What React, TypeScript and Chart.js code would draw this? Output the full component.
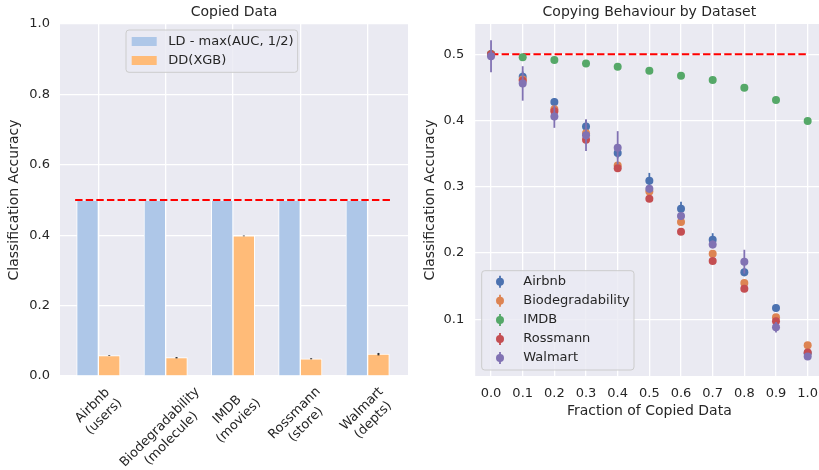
import React, { useEffect, useRef } from "react";
import { Chart, registerables } from "chart.js";

Chart.register(...registerables);

const TEXT = "#262626";
const FONT = '"DejaVu Sans", sans-serif';
const PANEL_BG = "#EAEAF2";
const GRID = "#FFFFFF";

// ---------- Left panel: Copied Data ----------
const CAT_NAMES = ["Airbnb", "Biodegradability", "IMDB", "Rossmann", "Walmart"];
const CAT_UNITS = ["(users)", "(molecule)", "(movies)", "(store)", "(depts)"];
const CAT_POS = [0, 1, 2, 3, 4];
const LD_LABEL = "LD - max(AUC, 1/2)";
const DD_LABEL = "DD(XGB)";
const LD_VALUES = [0.5, 0.5, 0.5, 0.5, 0.5];
const DD_VALUES = [0.058, 0.052, 0.398, 0.049, 0.062];
const DD_ERRORS = [0.001, 0.002, 0.001, 0.0015, 0.0035];
const LEFT_Y_TICKS = [0.0, 0.2, 0.4, 0.6, 0.8, 1.0];
const CHANCE_LEVEL = 0.5;
const LEFT_CHANCE_X = [-0.345, 4.34];

// ---------- Right panel: Copying Behaviour by Dataset ----------
const FRACTIONS = [0.0, 0.1, 0.2, 0.3, 0.4, 0.5, 0.6, 0.7, 0.8, 0.9, 1.0];
const SERIES_NAMES = ["Airbnb", "Biodegradability", "IMDB", "Rossmann", "Walmart"];
const SERIES_COLORS = ["#4C72B0", "#DD8452", "#55A868", "#C44E52", "#8172B3"];
const AIRBNB = [0.5, 0.466, 0.428, 0.391, 0.351, 0.309, 0.267, 0.22, 0.171, 0.117, 0.049];
const AIRBNB_ERR = [0.002, 0.008, 0.006, 0.01, 0.008, 0.012, 0.0105, 0.01, 0.006, 0.004, 0.003];
const BIODEG = [0.5, 0.462, 0.417, 0.381, 0.332, 0.293, 0.247, 0.199, 0.155, 0.103, 0.061];
const BIODEG_ERR = [0.001, 0.004, 0.004, 0.004, 0.004, 0.004, 0.004, 0.004, 0.004, 0.003, 0.003];
const IMDB = [0.5, 0.4955, 0.4914, 0.486, 0.481, 0.4753, 0.4677, 0.4612, 0.4496, 0.431, 0.3994];
const IMDB_ERR = [0.0005, 0.001, 0.001, 0.001, 0.001, 0.001, 0.001, 0.001, 0.001, 0.001, 0.001];
const ROSSMANN = [0.5, 0.46, 0.414, 0.371, 0.328, 0.282, 0.232, 0.188, 0.146, 0.097, 0.05];
const ROSSMANN_ERR = [0.001, 0.004, 0.004, 0.005, 0.004, 0.004, 0.004, 0.004, 0.004, 0.003, 0.003];
const WALMART = [0.497, 0.456, 0.406, 0.378, 0.359, 0.297, 0.256, 0.213, 0.187, 0.088, 0.044];
const WALMART_ERR = [0.024, 0.026, 0.017, 0.024, 0.025, 0.006, 0.006, 0.006, 0.018, 0.008, 0.004];
const RIGHT_X_TICKS = [0.0, 0.1, 0.2, 0.3, 0.4, 0.5, 0.6, 0.7, 0.8, 0.9, 1.0];
const RIGHT_Y_TICKS = [0.1, 0.2, 0.3, 0.4, 0.5];
const RIGHT_CHANCE_X = [0.0, 1.0];

const SERIES_VALUES = [AIRBNB, BIODEG, IMDB, ROSSMANN, WALMART];
const SERIES_ERRORS = [AIRBNB_ERR, BIODEG_ERR, IMDB_ERR, ROSSMANN_ERR, WALMART_ERR];

Chart.defaults.font.family = FONT;
Chart.defaults.color = TEXT;

const fmt1 = (v: any) => Number(v).toFixed(1);
const setTicks = (vals: number[]) => (s: any) => {
  s.ticks = vals.map((value) => ({ value }));
};
const gridOpts = { color: GRID, lineWidth: 1.3, drawTicks: false, offset: false };

const bgPlugin = {
  id: "panelBg",
  beforeDraw(chart: any) {
    const { ctx, chartArea: a } = chart;
    ctx.save();
    ctx.fillStyle = PANEL_BG;
    ctx.fillRect(a.left, a.top, a.right - a.left, a.bottom - a.top);
    ctx.restore();
  },
};

function drawErr(chart: any, index: number) {
  const ds = chart.data.datasets[index];
  if (!ds.errors) return;
  const { ctx } = chart;
  const meta = chart.getDatasetMeta(index);
  const ys = chart.scales.y;
  ctx.save();
  ctx.strokeStyle = ds.errorColor;
  ctx.lineWidth = ds.errorWidth;
  ds.data.forEach((p: any, i: number) => {
    const el = meta.data[i];
    if (!el) return;
    const e = ds.errors[i];
    ctx.beginPath();
    ctx.moveTo(el.x, ys.getPixelForValue(p.y - e));
    ctx.lineTo(el.x, ys.getPixelForValue(p.y + e));
    ctx.stroke();
  });
  ctx.restore();
}

const errPlugin = {
  id: "errBars",
  beforeDatasetDraw(chart: any, args: any) {
    const ds = chart.data.datasets[args.index];
    if (ds.errors && !ds.errorOnTop) drawErr(chart, args.index);
  },
  afterDatasetDraw(chart: any, args: any) {
    const ds = chart.data.datasets[args.index];
    if (ds.errors && ds.errorOnTop) drawErr(chart, args.index);
  },
};

function roundBox(ctx: any, x: number, y: number, w: number, h: number, r: number) {
  ctx.beginPath();
  ctx.moveTo(x + r, y);
  ctx.lineTo(x + w - r, y);
  ctx.arcTo(x + w, y, x + w, y + r, r);
  ctx.lineTo(x + w, y + h - r);
  ctx.arcTo(x + w, y + h, x + w - r, y + h, r);
  ctx.lineTo(x + r, y + h);
  ctx.arcTo(x, y + h, x, y + h - r, r);
  ctx.lineTo(x, y + r);
  ctx.arcTo(x, y, x + r, y, r);
  ctx.closePath();
}

const rotatedTicksPlugin = {
  id: "rotTicks",
  afterDraw(chart: any) {
    const { ctx, chartArea } = chart;
    const xs = chart.scales.x;
    const lh = 16;
    ctx.save();
    ctx.font = `13px ${FONT}`;
    ctx.fillStyle = TEXT;
    ctx.textAlign = "center";
    ctx.textBaseline = "middle";
    CAT_POS.forEach((v, i) => {
      const lines = [CAT_NAMES[i], CAT_UNITS[i]];
      const W = Math.max(...lines.map((l) => ctx.measureText(l).width));
      const H = lines.length * lh;
      const half = ((W + H) * Math.SQRT1_2) / 2;
      const cx = xs.getPixelForValue(v);
      const cy = chartArea.bottom + 8 + half;
      ctx.save();
      ctx.translate(cx, cy);
      ctx.rotate(-Math.PI / 4);
      lines.forEach((l, j) => ctx.fillText(l, 0, (j - (lines.length - 1) / 2) * lh));
      ctx.restore();
    });
    ctx.restore();
  },
};

const leftLegendPlugin = {
  id: "leftLegend",
  afterDraw(chart: any) {
    const { ctx, chartArea: a } = chart;
    const items = chart.data.datasets.filter((d: any) => d.type !== "line");
    ctx.save();
    ctx.font = `13px ${FONT}`;
    const textW = Math.max(...items.map((d: any) => ctx.measureText(d.label).width));
    const x0 = a.left + 66;
    const y0 = a.top + 6;
    const pad = 5.7;
    const handle = 25;
    const gap = 11.6;
    const rowH = 19;
    const w = pad + handle + gap + textW + 4;
    const h = 42.3;
    roundBox(ctx, x0, y0, w, h, 3);
    ctx.fillStyle = "rgba(234,234,242,0.8)";
    ctx.fill();
    ctx.strokeStyle = "#CCCCCC";
    ctx.lineWidth = 1;
    ctx.stroke();
    items.forEach((d: any, i: number) => {
      const cy = y0 + 11.5 + i * rowH;
      ctx.fillStyle = d.backgroundColor;
      ctx.fillRect(x0 + pad, cy - 4.5, handle, 9);
      ctx.fillStyle = TEXT;
      ctx.textAlign = "left";
      ctx.textBaseline = "middle";
      ctx.fillText(d.label, x0 + pad + handle + gap, cy);
    });
    ctx.restore();
  },
};

const rightLegendPlugin = {
  id: "rightLegend",
  afterDraw(chart: any) {
    const { ctx, chartArea: a } = chart;
    const items = chart.data.datasets.filter((d: any) => d.type !== "line");
    ctx.save();
    ctx.font = `13px ${FONT}`;
    const textW = Math.max(...items.map((d: any) => ctx.measureText(d.label).width));
    const rowH = 19.1;
    const h = 99.3;
    const x0 = a.left + 6.5;
    const y0 = a.bottom - 6 - h;
    const w = 41.6 + textW + 4.3;
    roundBox(ctx, x0, y0, w, h, 3);
    ctx.fillStyle = "rgba(234,234,242,0.8)";
    ctx.fill();
    ctx.strokeStyle = "#CCCCCC";
    ctx.lineWidth = 1;
    ctx.stroke();
    items.forEach((d: any, i: number) => {
      const cy = y0 + 11 + i * rowH;
      const mx = x0 + 18.3;
      ctx.strokeStyle = d.errorColor;
      ctx.lineWidth = 1.8;
      ctx.beginPath();
      ctx.moveTo(mx, cy - 6);
      ctx.lineTo(mx, cy + 6);
      ctx.stroke();
      ctx.fillStyle = d.pointBackgroundColor;
      ctx.beginPath();
      ctx.arc(mx, cy, 4, 0, Math.PI * 2);
      ctx.fill();
      ctx.fillStyle = TEXT;
      ctx.textAlign = "left";
      ctx.textBaseline = "middle";
      ctx.fillText(d.label, x0 + 41.6, cy);
    });
    ctx.restore();
  },
};

export default function App() {
  const leftRef = useRef<HTMLCanvasElement | null>(null);
  const rightRef = useRef<HTMLCanvasElement | null>(null);

  useEffect(() => {
    const left = new Chart(leftRef.current as HTMLCanvasElement, {
      type: "bar",
      data: {
        datasets: [
          {
            label: LD_LABEL,
            data: CAT_POS.map((x, i) => ({ x, y: LD_VALUES[i] })),
            backgroundColor: "#AEC7E8",
            borderColor: "#FFFFFF",
            borderWidth: 1,
            barThickness: 21.7,
            order: 1,
          },
          {
            label: DD_LABEL,
            data: CAT_POS.map((x, i) => ({ x, y: DD_VALUES[i] })),
            backgroundColor: "#FFBB78",
            borderColor: "#FFFFFF",
            borderWidth: 1,
            barThickness: 21.7,
            order: 1,
            errors: DD_ERRORS,
            errorOnTop: true,
            errorColor: "#333333",
            errorWidth: 2,
          },
          {
            type: "line",
            label: "chance",
            data: LEFT_CHANCE_X.map((x) => ({ x, y: CHANCE_LEVEL })),
            borderColor: "#FF0000",
            borderWidth: 2,
            borderDash: [7.4, 3.2],
            pointRadius: 0,
            fill: false,
            order: 0,
          },
        ] as any,
      },
      options: {
        responsive: false,
        animation: false,
        devicePixelRatio: 1,
        layout: { padding: { left: 0, right: 12, top: 0, bottom: 0 } },
        plugins: {
          legend: { display: false },
          tooltip: { enabled: false },
          title: {
            display: true,
            text: "Copied Data",
            fullSize: false,
            color: TEXT,
            font: { size: 14, weight: "normal", family: FONT },
            padding: { top: 4, bottom: 3.2 },
          },
        },
        scales: {
          x: {
            type: "linear",
            min: -0.57,
            max: 4.6,
            offset: false,
            grid: gridOpts,
            border: { display: false },
            ticks: { display: false },
            afterBuildTicks: setTicks(CAT_POS),
            afterFit: (s: any) => {
              s.height = 94;
            },
          },
          y: {
            min: 0,
            max: 1,
            grid: gridOpts,
            border: { display: false },
            ticks: {
              padding: 10,
              color: TEXT,
              font: { size: 13, family: FONT },
              callback: fmt1,
            },
            afterBuildTicks: setTicks(LEFT_Y_TICKS),
            title: {
              display: true,
              text: "Classification Accuracy",
              color: TEXT,
              font: { size: 14, family: FONT },
              padding: { top: 6, bottom: 0 },
            },
            afterFit: (s: any) => {
              s.width = 60;
            },
          },
        } as any,
      },
      plugins: [bgPlugin, errPlugin, rotatedTicksPlugin, leftLegendPlugin],
    } as any);

    const right = new Chart(rightRef.current as HTMLCanvasElement, {
      type: "scatter",
      data: {
        datasets: [
          ...SERIES_NAMES.map((name, k) => ({
            label: name,
            data: FRACTIONS.map((x, i) => ({ x, y: SERIES_VALUES[k][i] })),
            pointBackgroundColor: SERIES_COLORS[k],
            backgroundColor: SERIES_COLORS[k],
            pointBorderWidth: 0,
            pointRadius: 4,
            pointHoverRadius: 4,
            showLine: false,
            order: SERIES_NAMES.length - k,
            errors: SERIES_ERRORS[k],
            errorColor: SERIES_COLORS[k],
            errorWidth: 1.8,
          })),
          {
            type: "line",
            label: "chance",
            data: RIGHT_CHANCE_X.map((x) => ({ x, y: CHANCE_LEVEL })),
            borderColor: "#FF0000",
            borderWidth: 2,
            borderDash: [7.4, 3.2],
            pointRadius: 0,
            showLine: true,
            fill: false,
            order: 100,
          },
        ] as any,
      },
      options: {
        responsive: false,
        animation: false,
        devicePixelRatio: 1,
        layout: { padding: { left: 0, right: 16.5, top: 0, bottom: 0 } },
        plugins: {
          legend: { display: false },
          tooltip: { enabled: false },
          title: {
            display: true,
            text: "Copying Behaviour by Dataset",
            fullSize: false,
            color: TEXT,
            font: { size: 14, weight: "normal", family: FONT },
            padding: { top: 4, bottom: 3.2 },
          },
        },
        scales: {
          x: {
            type: "linear",
            min: -0.05,
            max: 1.05,
            grid: gridOpts,
            border: { display: false },
            ticks: {
              padding: 10,
              color: TEXT,
              font: { size: 13, family: FONT },
              maxRotation: 0,
              minRotation: 0,
              autoSkip: false,
              callback: fmt1,
            },
            afterBuildTicks: setTicks(RIGHT_X_TICKS),
            title: {
              display: true,
              text: "Fraction of Copied Data",
              color: TEXT,
              font: { size: 14, family: FONT },
              padding: { top: 0, bottom: 50 },
            },
            afterFit: (s: any) => {
              s.height = 94;
            },
          },
          y: {
            min: 0.0145,
            max: 0.5457,
            grid: gridOpts,
            border: { display: false },
            ticks: {
              padding: 11,
              color: TEXT,
              font: { size: 13, family: FONT },
              callback: fmt1,
            },
            afterBuildTicks: setTicks(RIGHT_Y_TICKS),
            title: {
              display: true,
              text: "Classification Accuracy",
              color: TEXT,
              font: { size: 14, family: FONT },
              padding: { top: 2.4, bottom: 0 },
            },
            afterFit: (s: any) => {
              s.width = 55.2;
            },
          },
        } as any,
      },
      plugins: [bgPlugin, errPlugin, rightLegendPlugin],
    } as any);

    return () => {
      left.destroy();
      right.destroy();
    };
  }, []);

  return (
    <div
      style={{
        position: "absolute",
        left: 0,
        top: 0,
        width: 819,
        height: 470,
        overflow: "hidden",
        background: "#FFFFFF",
      }}
    >
      <canvas
        ref={leftRef}
        width={420}
        height={470}
        style={{ position: "absolute", left: 0, top: 0, width: 420, height: 470 }}
      />
      <canvas
        ref={rightRef}
        width={420}
        height={470}
        style={{ position: "absolute", left: 420, top: 0, width: 420, height: 470 }}
      />
    </div>
  );
}
